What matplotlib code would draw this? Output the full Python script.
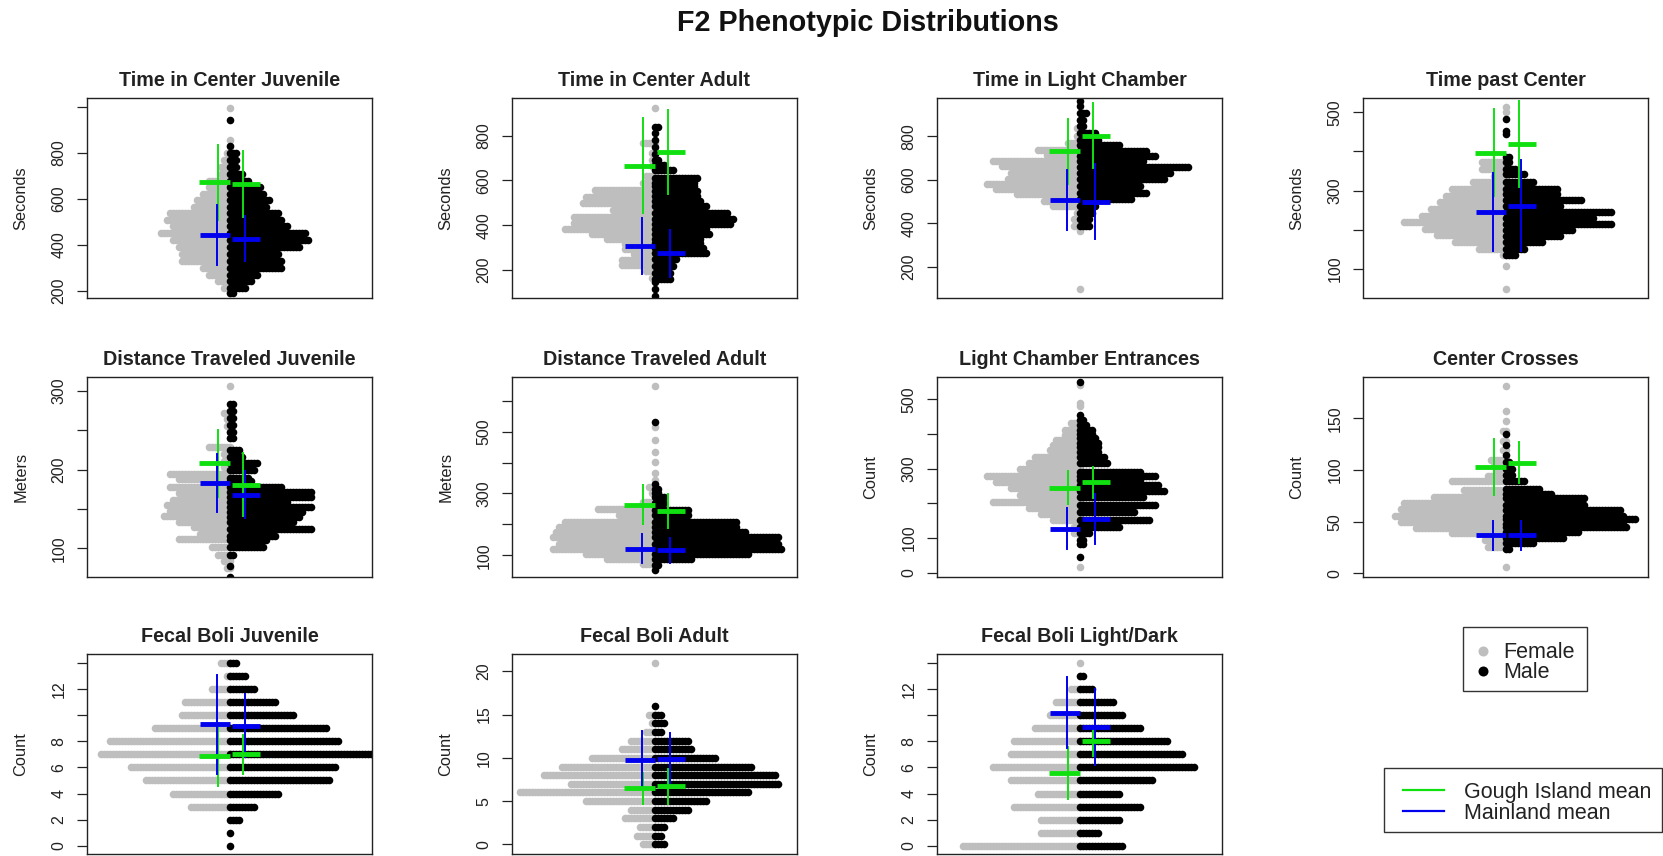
import matplotlib
matplotlib.use('Agg')
import matplotlib.pyplot as plt
from matplotlib.patches import Rectangle

plt.rcParams['font.family'] = ['Liberation Sans', 'DejaVu Sans']

# ---------------- data ----------------
titles = ["Time in Center Juvenile", "Time in Center Adult", "Time in Light Chamber", "Time past Center",
          "Distance Traveled Juvenile", "Distance Traveled Adult", "Light Chamber Entrances", "Center Crosses",
          "Fecal Boli Juvenile", "Fecal Boli Adult", "Fecal Boli Light/Dark"]
ylabels = ["Seconds", "Seconds", "Seconds", "Seconds", "Meters", "Meters", "Count", "Count",
           "Count", "Count", "Count"]

# rows of the swarm: y value and number of animals in that row
p1_f_y = [996, 858, 830, 800, 770, 740, 710, 680, 650, 620, 595, 565, 540, 510, 480, 450, 420, 390, 360, 330, 300, 270, 240, 210, 190]
p1_f_n = [1, 1, 1, 2, 3, 4, 4, 8, 8, 10, 12, 13, 21, 22, 20, 24, 20, 18, 17, 17, 10, 8, 5, 3, 1]
p1_m_y = [945, 830, 800, 770, 740, 710, 680, 650, 620, 595, 565, 540, 510, 480, 450, 420, 390, 360, 330, 300, 270, 240, 210, 190]
p1_m_n = [1, 1, 3, 3, 3, 5, 7, 11, 12, 14, 13, 17, 18, 20, 26, 27, 24, 17, 18, 18, 10, 8, 6, 2]

p2_f_y = [923, 767, 723, 693, 663, 619, 589, 559, 528, 497, 466, 435, 408, 385, 362, 340, 318, 295, 270, 245, 220, 195, 165]
p2_f_n = [1, 5, 2, 2, 2, 4, 5, 21, 24, 25, 15, 28, 28, 31, 22, 17, 11, 11, 8, 12, 12, 4, 2]
p2_m_y = [840, 810, 780, 750, 720, 690, 668, 645, 611, 590, 574, 552, 530, 508, 485, 456, 426, 404, 381, 359, 340, 322, 300, 277, 248, 218, 188, 159, 144, 114, 84]
p2_m_n = [2, 1, 1, 1, 1, 2, 4, 7, 15, 14, 14, 15, 15, 16, 18, 25, 27, 26, 18, 19, 16, 16, 17, 18, 8, 7, 6, 6, 1, 1, 1]

p3_f_y = [877, 838, 800, 769, 739, 716, 685, 662, 632, 601, 578, 555, 532, 502, 479, 448, 417, 387, 364, 99]
p3_f_n = [1, 2, 2, 5, 15, 12, 30, 27, 24, 25, 32, 29, 22, 13, 10, 2, 3, 3, 1, 1]
p3_m_y = [961, 938, 907, 877, 846, 815, 785, 762, 731, 708, 685, 659, 632, 601, 571, 540, 509, 479, 448, 417, 387]
p3_m_n = [1, 1, 3, 2, 2, 6, 7, 14, 23, 26, 22, 37, 31, 29, 21, 23, 18, 6, 5, 4, 4]

p4_f_y = [513, 500, 372, 355, 338, 321, 304, 287, 270, 253, 236, 219, 202, 185, 168, 151, 134, 107, 49]
p4_f_n = [1, 1, 9, 9, 5, 12, 19, 21, 23, 26, 29, 35, 28, 24, 18, 10, 2, 1, 1]
p4_m_y = [483, 453, 445, 385, 372, 355, 342, 321, 304, 290, 276, 260, 244, 229, 214, 199, 184, 168, 151, 134]
p4_m_n = [1, 1, 1, 2, 2, 4, 7, 10, 18, 18, 26, 19, 36, 30, 36, 23, 19, 13, 7, 4]

p5_f_y = [307, 272, 264, 256, 248, 240, 229, 220, 211, 203, 195, 188, 178, 170, 161, 155, 148, 141, 134, 127, 118, 112, 101, 92, 84, 75]
p5_f_n = [1, 3, 2, 2, 1, 1, 8, 3, 3, 3, 21, 18, 21, 18, 20, 22, 21, 23, 18, 13, 11, 18, 7, 5, 3, 2]
p5_m_y = [283, 275, 266, 257, 248, 240, 225, 216, 208, 199, 190, 185, 178, 172, 165, 159, 153, 146, 140, 133, 125, 116, 110, 101, 92, 78, 64]
p5_m_n = [2, 2, 2, 2, 2, 2, 4, 5, 10, 9, 7, 8, 18, 28, 28, 20, 28, 25, 24, 22, 28, 16, 13, 12, 2, 1, 1]

p6_f_y = [648, 516, 473, 435, 403, 365, 345, 322, 300, 273, 251, 230, 208, 192, 176, 159, 138, 122, 105, 89, 72]
p6_f_n = [1, 1, 1, 1, 1, 1, 1, 3, 2, 5, 20, 13, 31, 33, 34, 35, 33, 35, 24, 17, 5]
p6_m_y = [532, 332, 315, 300, 289, 268, 246, 230, 208, 192, 176, 159, 138, 122, 105, 89, 68, 52]
p6_m_n = [1, 1, 2, 2, 4, 4, 12, 12, 28, 28, 31, 42, 42, 43, 32, 13, 2, 1]

p7_f_y = [541, 488, 479, 431, 411, 397, 382, 368, 354, 332, 315, 298, 278, 262, 243, 223, 204, 185, 170, 151, 132, 113, 16]
p7_f_n = [1, 1, 1, 4, 6, 6, 9, 10, 11, 16, 18, 21, 32, 29, 24, 21, 30, 18, 14, 10, 3, 3, 1]
p7_m_y = [551, 455, 440, 425, 411, 399, 387, 373, 361, 349, 334, 315, 291, 278, 267, 252, 236, 219, 194, 175, 151, 132, 113, 93, 84, 45]
p7_m_n = [1, 1, 2, 3, 5, 5, 6, 7, 7, 7, 9, 10, 21, 26, 21, 27, 29, 22, 26, 19, 24, 14, 4, 2, 2, 1]

p8_f_y = [181, 157, 147, 138, 128, 119, 110, 104, 98, 94, 89, 81, 74, 68, 62, 56, 50, 44, 39, 32, 26, 6.5]
p8_f_n = [1, 1, 1, 2, 2, 2, 6, 5, 4, 7, 19, 15, 25, 35, 36, 38, 36, 31, 19, 8, 7, 1]
p8_m_y = [135, 124, 115, 108, 101, 95, 89, 82, 77, 73, 66, 61, 56, 53, 48, 45, 40, 34, 29, 24]
p8_m_n = [1, 1, 1, 2, 3, 3, 7, 12, 16, 27, 27, 39, 40, 44, 40, 41, 25, 20, 10, 2]

p9_f_y = [0, 1, 2, 3, 4, 5, 6, 7, 8, 9, 10, 11, 12, 13, 14]
p9_f_n = [0, 0, 0, 14, 20, 29, 34, 44, 41, 26, 17, 16, 7, 2, 4]
p9_m_y = [0, 1, 2, 3, 4, 5, 6, 7, 8, 9, 10, 11, 12, 13, 14]
p9_m_n = [1, 1, 4, 9, 17, 34, 36, 52, 37, 33, 22, 16, 9, 6, 3]

p10_f_y = [0, 1, 2, 3, 4, 5, 6, 7, 8, 9, 10, 11, 12, 13, 14, 15, 21]
p10_f_n = [5, 7, 6, 11, 9, 24, 46, 29, 38, 32, 22, 12, 9, 4, 2, 3, 1]
p10_m_y = [0, 1, 2, 3, 4, 5, 6, 7, 8, 9, 10, 11, 12, 13, 14, 15, 16]
p10_m_n = [4, 3, 4, 7, 12, 18, 32, 42, 41, 33, 21, 13, 12, 3, 4, 3, 1]

p11_f_y = [0, 1, 2, 3, 4, 5, 6, 7, 8, 9, 10, 11, 12, 13, 14]
p11_f_n = [40, 14, 14, 23, 15, 24, 30, 24, 23, 16, 11, 9, 4, 1, 1]
p11_m_y = [0, 1, 2, 3, 4, 5, 6, 7, 8, 9, 10, 11, 12, 13]
p11_m_n = [15, 7, 14, 21, 14, 25, 39, 35, 30, 21, 15, 12, 5, 2]

# parental means +- sd (female / male)
gough_f_mean = [672, 666, 731, 397, 208, 264, 245, 103, 6.9, 6.5, 5.6]
gough_f_sd   = [164, 213, 149, 112, 43, 62, 48, 27, 2.3, 1.8, 2.0]
gough_m_mean = [665, 726, 803, 419, 181, 243, 260, 107, 7.0, 6.7, 8.0]
gough_m_sd   = [142, 187, 150, 110, 40, 55, 45, 20, 1.5, 2.0, 1.1]
main_f_mean  = [442, 307, 506, 245, 183, 122, 127, 37, 9.3, 9.8, 10.2]
main_f_sd    = [130, 124, 138, 100, 37, 46, 60, 14, 3.8, 3.3, 2.7]
main_m_mean  = [426, 274, 498, 261, 168, 116, 154, 37, 9.2, 9.9, 9.1]
main_m_sd    = [98, 104, 172, 117, 30, 40, 72, 14, 2.4, 3.0, 2.9]

ylims = [(170, 1040), (77, 968), (58, 976), (26, 537), (64, 318), (32, 676),
         (-11, 564), (-3, 190), (-0.6, 14.7), (-1.05, 22), (-0.6, 14.7)]
yticks = [[200, 400, 600, 800, 1000], [200, 400, 600, 800], [200, 400, 600, 800],
          [100, 200, 300, 400, 500], [100, 150, 200, 250, 300], [100, 200, 300, 400, 500, 600],
          [0, 100, 200, 300, 400, 500], [0, 50, 100, 150], [0, 2, 4, 6, 8, 10, 12, 14],
          [0, 5, 10, 15, 20], [0, 2, 4, 6, 8, 10, 12, 14]]
yticklabels = [['200', '400', '600', '800', ''], ['200', '400', '600', '800'], ['200', '400', '600', '800'],
               ['100', '', '300', '', '500'], ['100', '', '200', '', '300'], ['100', '', '300', '', '500', ''],
               ['0', '100', '', '300', '', '500'], ['0', '50', '100', '150'],
               ['0', '2', '4', '6', '8', '', '12', ''], ['0', '5', '10', '15', '20'],
               ['0', '2', '4', '6', '8', '', '12', '']]

panels = [
    (p1_f_y, p1_f_n, p1_m_y, p1_m_n), (p2_f_y, p2_f_n, p2_m_y, p2_m_n),
    (p3_f_y, p3_f_n, p3_m_y, p3_m_n), (p4_f_y, p4_f_n, p4_m_y, p4_m_n),
    (p5_f_y, p5_f_n, p5_m_y, p5_m_n), (p6_f_y, p6_f_n, p6_m_y, p6_m_n),
    (p7_f_y, p7_f_n, p7_m_y, p7_m_n), (p8_f_y, p8_f_n, p8_m_y, p8_m_n),
    (p9_f_y, p9_f_n, p9_m_y, p9_m_n), (p10_f_y, p10_f_n, p10_m_y, p10_m_n),
    (p11_f_y, p11_f_n, p11_m_y, p11_m_n),
]

# ---------------- style ----------------
FEMALE_C = '#BEBEBE'
MALE_C = '#000000'
GREEN = '#10e010'
BLUE = '#0000ee'
FIG_W, FIG_H = 1663, 856
col_left = [87, 512, 937, 1363]
row_top = [98, 377, 654]
AX_W, AX_H = 285, 199.5
XHALF = 47.5      # half width of x range (one unit = one point step)
DOT_S = 30

fig = plt.figure(figsize=(FIG_W / 100, FIG_H / 100), dpi=100)


def swarm(ax, ys, ns, sign, color):
    xs, yy = [], []
    for y, n in zip(ys, ns):
        for k in range(n):
            xs.append(sign * k)
            yy.append(y)
    ax.scatter(xs, yy, s=DOT_S, c=color, linewidths=0, zorder=2)


def cross(ax, mean, sd, xv, x0, x1, color):
    ax.plot([xv, xv], [mean - sd, mean + sd], color=color, lw=1.4, zorder=4)
    ax.plot([x0, x1], [mean, mean], color=color, lw=3.5, zorder=5, solid_capstyle='butt')


for i in range(11):
    r, c = divmod(i, 4)
    left = col_left[c] / FIG_W
    bottom = 1 - (row_top[r] + AX_H) / FIG_H
    ax = fig.add_axes([left, bottom, AX_W / FIG_W, AX_H / FIG_H])
    fy, fn, my, mn = panels[i]
    swarm(ax, fy, fn, -1, FEMALE_C)
    swarm(ax, my, mn, 1, MALE_C)
    cross(ax, gough_f_mean[i], gough_f_sd[i], -3.8, -10.3, 0.3, GREEN)
    cross(ax, gough_m_mean[i], gough_m_sd[i], 4.6, 0.7, 10.0, GREEN)
    cross(ax, main_f_mean[i], main_f_sd[i], -4.2, -10.0, 0.3, BLUE)
    cross(ax, main_m_mean[i], main_m_sd[i], 5.0, 0.7, 10.0, BLUE)
    ax.set_xlim(-XHALF, XHALF)
    ax.set_ylim(*ylims[i])
    ax.set_xticks([])
    ax.set_yticks(yticks[i])
    ax.set_yticklabels(yticklabels[i])
    ax.tick_params(axis='y', length=7.2, width=0.9, pad=7.5, labelsize=11.5, colors='#222222')
    for lab in ax.get_yticklabels():
        lab.set_rotation(90)
        lab.set_va('center')
    for sp in ax.spines.values():
        sp.set_linewidth(1.0)
        sp.set_color('#222222')
    ax.set_title(titles[i], fontsize=14.2, fontweight='bold', pad=8.9, color='#222222')
    ax.set_ylabel(ylabels[i], fontsize=11.8, color='#222222')
    ax.yaxis.set_label_coords(-58.7 / AX_W, 0.5)

# main title
fig.text(867.6 / FIG_W, 1 - 23.3 / FIG_H, "F2 Phenotypic Distributions", ha='center', va='center',
         fontsize=20.7, fontweight='bold', color='#111111')

# legends drawn in pixel coordinates on an overlay
ov = fig.add_axes([0, 0, 1, 1])
ov.set_xlim(0, FIG_W)
ov.set_ylim(FIG_H, 0)
ov.axis('off')
ov.patch.set_alpha(0)

ov.add_patch(Rectangle((1462.7, 627), 124, 63.7, fill=False, ec='#333333', lw=1.0))
ov.scatter([1482.7], [650.5], s=52, c=FEMALE_C, linewidths=0)
ov.scatter([1482.7], [670.5], s=52, c=MALE_C, linewidths=0)
ov.text(1503.3, 658.3, "Female", ha='left', va='baseline', fontsize=15.5, color='#222222')
ov.text(1503.3, 678.3, "Male", ha='left', va='baseline', fontsize=15.5, color='#222222')

ov.add_patch(Rectangle((1384, 768), 277.7, 64, fill=False, ec='#333333', lw=1.0))
ov.plot([1403, 1444], [790, 790], color=GREEN, lw=1.6)
ov.plot([1403, 1444], [810.7, 810.7], color=BLUE, lw=1.6)
ov.text(1464, 798.3, "Gough Island mean", ha='left', va='baseline', fontsize=15.5, color='#222222')
ov.text(1464, 819.4, "Mainland mean", ha='left', va='baseline', fontsize=15.5, color='#222222')

fig.savefig('out.png', dpi=100)
